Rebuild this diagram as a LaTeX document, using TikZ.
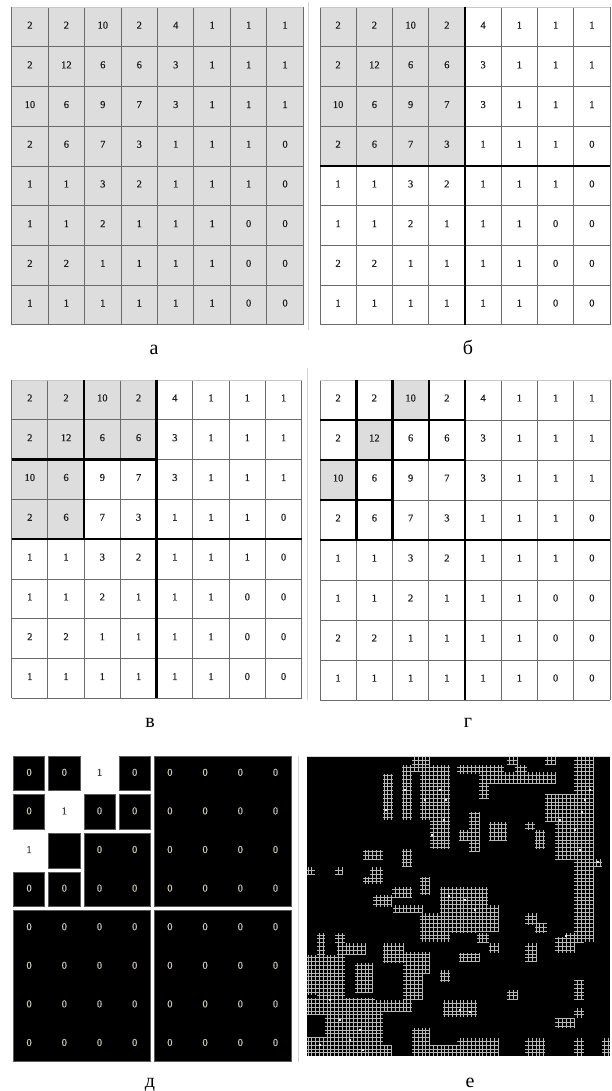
\documentclass[tikz,border=0pt]{standalone}
\usepackage{fontspec}
\setmainfont{Liberation Serif}
\newfontfamily\numfont[FakeBold=0.6]{Liberation Serif}
\definecolor{cellgray}{RGB}{221,221,221}
\definecolor{zerotxt}{RGB}{205,196,178}
\definecolor{sepgray}{RGB}{212,212,212}
\tikzset{
  num/.style={font=\numfont\fontsize{10.5}{11}\selectfont, text=black!88, inner sep=0pt, yshift=2pt},
  gline/.style={draw=black!58, line width=1pt},
  topline/.style={draw=black!22, line width=0.9pt},
  bline/.style={draw=black, line width=2.5pt},
  lbl/.style={font=\fontsize{20}{24}\selectfont, anchor=base, inner sep=0pt},
  blk/.style={fill=black, draw=black!65, line width=0.6pt},
  zero/.style={font=\numfont\fontsize{10.5}{11}\selectfont, text=zerotxt, inner sep=0pt, yshift=1pt},
  one/.style={font=\numfont\fontsize{10.5}{11}\selectfont, text=black!75, inner sep=0pt, yshift=1pt},
  egrid/.style={draw=white!72!black, line width=0.4pt, step=3.8pt},
  sep/.style={draw=sepgray, line width=0.8pt},
}
\newcommand\matvals{{2,2,10,2,4,1,1,1},{2,12,6,6,3,1,1,1},{10,6,9,7,3,1,1,1},{2,6,7,3,1,1,1,0},{1,1,3,2,1,1,1,0},{1,1,2,1,1,1,0,0},{2,2,1,1,1,1,0,0},{1,1,1,1,1,1,0,0}}
\newcommand\dvals{{0,0,1,0,0,0,0,0},{0,1,0,0,0,0,0,0},{1,2,0,0,0,0,0,0},{0,0,0,0,0,0,0,0},{0,0,0,0,0,0,0,0},{0,0,0,0,0,0,0,0},{0,0,0,0,0,0,0,0},{0,0,0,0,0,0,0,0}}
\newcommand\gridlines{%
  \foreach \i in {0,...,8}{\draw[gline] (\i,0)--(\i,8);}
  \foreach \i in {1,...,8}{\draw[gline] (0,\i)--(8,\i);}
  \draw[topline] (0,0)--(8,0);}
\newcommand\celltext[1]{%
  \foreach \row [count=\r from 0] in \matvals {
    \foreach \v [count=\c from 0] in \row {
      \node[num] (#1-\r-\c) at (\c+0.5,\r+0.5) {\v};
    }
  }}
\begin{document}
\begin{tikzpicture}[x=1pt,y=-1pt]
\useasboundingbox (0,0) rectangle (611,1091);
\fill[white] (0,0) rectangle (611,1091);

% separators
\draw[sep] (308,2)--(308,330);
\draw[sep] (307,368)--(307,700);
\draw[sep] (298,756)--(298,1062);

% panel a
\begin{scope}[shift={(11.7,7.3)},x=36.45pt,y=-39.7pt]
  \fill[cellgray] (0,0) rectangle (8,8);
  \gridlines
  \celltext{a}
\end{scope}

% panel b
\begin{scope}[shift={(320,7.3)},x=36.25pt,y=-39.7pt]
  \fill[cellgray] (0,0) rectangle (4,4);
  \gridlines
  \draw[bline] (4,0)--(4,8) (0,4)--(8,4);
  \celltext{b}
\end{scope}

% panel v
\begin{scope}[shift={(11.7,380)},x=36.25pt,y=-39.8pt]
  \fill[cellgray] (0,0) rectangle (4,2) (0,2) rectangle (2,4);
  \gridlines
  \draw[bline] (4,0)--(4,8) (0,4)--(8,4) (0,2)--(4,2) (2,0)--(2,4);
  \celltext{v}
\end{scope}

% panel g
\begin{scope}[shift={(320,380)},x=36.25pt,y=-40pt]
  \fill[cellgray] (2,0) rectangle (3,1) (1,1) rectangle (2,2) (0,2) rectangle (1,3);
  \gridlines
  \draw[bline] (4,0)--(4,8) (0,4)--(8,4) (0,2)--(4,2) (2,0)--(2,4)
     (1,0)--(1,4) (0,1)--(4,1) (3,0)--(3,2) (0,3)--(2,3);
  \celltext{g}
\end{scope}

% panel d
\begin{scope}[shift={(11.5,754)},x=35.2pt,y=-38.6pt]
  \foreach \a/\b/\c/\d in {0/0/1/1,1/0/2/1,3/0/4/1,0/1/1/2,2/1/3/2,3/1/4/2,1/2/2/3,0/3/1/4,1/3/2/4,2/2/4/4,4/0/8/4,0/4/4/8,4/4/8/8}
    \filldraw[blk] ([shift={(2pt,-2pt)}]\a,\b) rectangle ([shift={(-2pt,2pt)}]\c,\d);
  \foreach \row [count=\r from 0] in \dvals {
    \foreach \v [count=\c from 0] in \row {
      \ifnum\v=0 \node[zero] (d-\r-\c) at (\c+0.5,\r+0.5) {0};\fi
      \ifnum\v=1 \node[one] (d-\r-\c) at (\c+0.5,\r+0.5) {1};\fi
    }
  }
\end{scope}

% panel e
\fill[black] (307,756) rectangle (610,1056);
\draw[sep] (307,756)--(610,756);
\foreach \a/\b/\c/\d in {
 412/757/430/769, 383/774/393/820, 402/765/412/820, 420/765/430/820, 430/765/450/849,
 402/765/450/772, 363/850/383/859, 402/849/412/867, 307/867/315/875, 335/867/343/875,
 370/867/383/877, 363/877/383/884, 420/877/430/895, 392/887/412/897, 373/895/392/907,
 440/887/488/920, 420/915/477/933, 457/765/504/774, 507/757/517/765, 515/765/527/780,
 479/772/555/784, 479/784/489/799, 545/757/555/765, 574/757/594/822, 545/794/574/822,
 555/820/594/859, 584/859/602/867, 574/859/594/907, 469/812/479/852, 459/830/469/840,
 489/822/507/840, 525/822/535/830, 535/830/545/849, 393/905/422/913, 420/913/450/942,
 317/933/325/955, 335/933/345/945, 337/943/365/955, 383/943/403/963, 403/952/430/973,
 307/955/345/963, 307/955/317/995, 317/963/345/1005, 355/963/373/992, 403/972/422/1000,
 307/998/375/1015, 353/1000/412/1012, 325/1012/383/1056, 307/1037/325/1056, 412/1028/430/1045,
 383/1045/392/1056, 412/1045/460/1056, 443/1000/477/1017, 440/970/450/982, 457/905/499/932,
 477/933/489/943, 489/943/499/953, 459/953/479/962, 525/913/537/925, 535/923/547/933,
 525/943/537/962, 574/905/594/942, 565/933/584/943, 555/943/574/953, 574/980/584/1000,
 507/990/517/1000, 574/1008/584/1018, 555/1018/574/1028, 457/1038/499/1056, 525/1038/545/1056,
 574/1038/584/1056, 602/1038/610/1056, 555/937/573/953}
  \draw[egrid] (\a,\d) grid (\c,\b);
\foreach \p/\q in {405/790,425/800,440/790,444/820,432/835,590/790,585/800,560/820,
 575/830,580/850,465/900,475/910,330/1000,340/1020,350/1040,360/1030,
 320/1045,460/1010,470/1012,598/862,566/936,386/810,446/800,449/896,582/812,363/1050}
  \fill[white!92!black] (\p-1,\q-1) rectangle (\p+1,\q+1);

% labels
\node[lbl] (la) at (154,354) {а};
\node[lbl] (lb) at (468,354) {б};
\node[lbl] (lv) at (150,727) {в};
\node[lbl] (lg) at (468,727) {г};
\node[lbl] (ld) at (150,1087) {д};
\node[lbl] (le) at (470,1087) {е};
\end{tikzpicture}
\end{document}
